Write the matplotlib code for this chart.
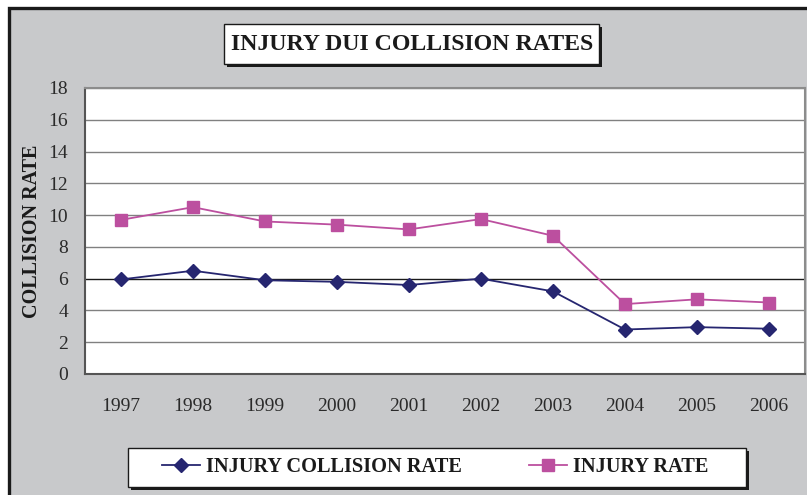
import matplotlib
matplotlib.use("Agg")
import matplotlib.pyplot as plt
from matplotlib.patches import Rectangle
from matplotlib.lines import Line2D

years = ["1997", "1998", "1999", "2000", "2001", "2002", "2003", "2004", "2005", "2006"]
injury_collision_rate = [5.95, 6.5, 5.9, 5.8, 5.6, 6.0, 5.2, 2.8, 2.95, 2.85]
injury_rate = [9.7, 10.5, 9.6, 9.4, 9.1, 9.75, 8.7, 4.4, 4.7, 4.5]
yticks = [0, 2, 4, 6, 8, 10, 12, 14, 16, 18]
series_labels = ["INJURY COLLISION RATE", "INJURY RATE"]
title_text = "INJURY DUI COLLISION RATES"
ylabel_text = "COLLISION RATE"

W, H = 807, 495
SERIF = "Liberation Serif"
NAVY = "#262670"
PINK = "#BC4F9F"
BG = "#C8C9CB"

fig = plt.figure(figsize=(W / 100, H / 100), dpi=100, facecolor="white")


def fx(x):
    return x / W


def fy(y):
    return 1 - y / H


def rect(x0, y0, x1, y1, **kw):
    r = Rectangle((fx(x0), fy(y1)), fx(x1) - fx(x0), fy(y0) - fy(y1),
                  transform=fig.transFigure, **kw)
    fig.patches.append(r)
    return r


# outer gray panel with black border
rect(9, 8, W + 20, H + 20, facecolor=BG, edgecolor="#1a1a1a", lw=2.4, zorder=-10)

# title box with shadow
rect(227, 27, 602, 67, facecolor="#1a1a1a", edgecolor="none", zorder=1)
rect(224, 24, 599, 64, facecolor="white", edgecolor="#1a1a1a", lw=1, zorder=2)
fig.text(fx(412), fy(44), title_text, ha="center", va="center",
         fontsize=17.2, fontweight="bold", family=SERIF, color="#1a1a1a", zorder=3)

# legend box with shadow
rect(131, 451, 749, 490, facecolor="#1a1a1a", edgecolor="none", zorder=1)
rect(128, 448, 746, 487, facecolor="white", edgecolor="#1a1a1a", lw=1, zorder=2)

ax = fig.add_axes([fx(85), fy(374), (805 - 85) / W, (374 - 88) / H])
ax.set_facecolor("white")
x = list(range(len(years)))
ax.plot(x, injury_collision_rate, color=NAVY, lw=1.3, marker="D", ms=7,
        markeredgecolor=NAVY, markerfacecolor=NAVY, zorder=4)
ax.plot(x, injury_rate, color=PINK, lw=1.3, marker="s", ms=9,
        markeredgecolor=PINK, markerfacecolor=PINK, zorder=4)

ax.set_xlim(-0.5, len(years) - 0.5)
ax.set_ylim(0, 18)
ax.set_yticks(yticks)
ax.set_xticks(x)
ax.set_xticklabels(years)
ax.tick_params(axis="both", length=0, labelsize=14, labelcolor="#2a2a2a")
ax.tick_params(axis="x", pad=17)
ax.tick_params(axis="y", pad=12)
for lab in ax.get_xticklabels() + ax.get_yticklabels():
    lab.set_family(SERIF)

ax.yaxis.grid(True, color="#808080", lw=1)
ax.set_axisbelow(True)
for tick, v in zip(ax.yaxis.get_major_ticks(), yticks):
    if v == 6:
        tick.gridline.set_color("#1a1a1a")

for side in ["top", "right"]:
    ax.spines[side].set_color("#8c8c8c")
    ax.spines[side].set_linewidth(1.5)
for side in ["left", "bottom"]:
    ax.spines[side].set_color("#555555")
    ax.spines[side].set_linewidth(1.5)

ax.set_ylabel(ylabel_text, family=SERIF, fontsize=14.5, fontweight="bold",
              color="#1a1a1a", va="center")
ax.yaxis.set_label_coords((32 - 85) / 720, 0.5)

handles = [
    Line2D([], [], color=NAVY, lw=1.3, marker="D", ms=7, markerfacecolor=NAVY, markeredgecolor=NAVY),
    Line2D([], [], color=PINK, lw=1.3, marker="s", ms=9, markerfacecolor=PINK, markeredgecolor=PINK),
]
leg = fig.legend(handles, series_labels, loc="center left",
                 bbox_to_anchor=(fx(162), fy(467.5)), frameon=False, ncol=2,
                 borderpad=0, borderaxespad=0, handlelength=1.86, handletextpad=0.3,
                 columnspacing=3.3,
                 prop={"family": SERIF, "size": 14.7, "weight": "bold"})
for t in leg.get_texts():
    t.set_color("#1a1a1a")
leg.set_zorder(5)

fig.savefig("out.png", dpi=100, facecolor="white")
